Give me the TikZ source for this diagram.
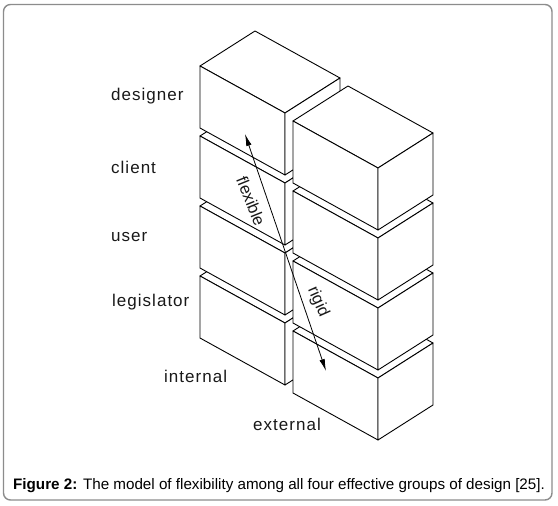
\documentclass[tikz,border=0pt]{standalone}
\usepackage{fontspec}
\setmainfont{Liberation Sans}
\newfontfamily\labfont[LetterSpace=6]{Liberation Sans}
\usetikzlibrary{arrows.meta}
\tikzset{
  boxline/.style={draw=black,fill=white,line width=0.9pt,line join=round},
  lab/.style={font=\labfont\fontsize{17}{20}\selectfont,text=black!90,inner sep=0pt},
  arrlab/.style={font=\fontsize{16.5}{19}\selectfont,text=black!90,inner sep=0pt},
  frame/.style={draw=black!45,line width=1.4pt,rounded corners=7pt},
  brick/.pic={
    \filldraw[boxline] (0,0) -- (85,47) -- (140,12) -- (55,-35) -- cycle;
    \filldraw[boxline] (0,0) -- (85,47) -- (85,109) -- (0,62) -- cycle;
    \filldraw[boxline] (85,47) -- (140,12) -- (140,74) -- (85,109) -- cycle;
  }
}
\begin{document}
\begin{tikzpicture}[x=1pt,y=-1pt]
\useasboundingbox (0,0) rectangle (558,506);
\fill[white] (0,0) rectangle (558,506);
\draw[frame] (3.5,4.5) rectangle (552,500);
% left column (back), bottom to top
\pic at (200,276) {brick};
\pic at (200,206) {brick};
\pic at (200,136) {brick};
\pic at (200,66) {brick};
% right column (front), bottom to top
\pic at (293,331) {brick};
\pic at (293,261) {brick};
\pic at (293,191) {brick};
\pic at (293,121) {brick};
% arrow
\coordinate (ftip) at (245,134);
\coordinate (rtip) at (326,371);
\draw[line width=0.8pt,{Latex[length=12pt,width=5.5pt]}-{Latex[length=12pt,width=5.5pt]}] (ftip) -- (rtip);
\node[arrlab,rotate=-68] (flex) at (251,201) {flexible};
\node[arrlab,rotate=-66] (rig) at (318,302) {rigid};
% labels
\node[lab,anchor=base west] (designer) at (111,100) {designer};
\node[lab,anchor=base west] (client) at (111,173) {client};
\node[lab,anchor=base west] (user) at (111,241) {user};
\node[lab,anchor=base west] (legis) at (112,306) {legislator};
\node[lab,anchor=base west] (internal) at (164,382) {internal};
\node[lab,anchor=base west] (external) at (253,430) {external};
% caption
\node[anchor=base west,inner sep=0pt,font=\fontsize{15.2}{18}\selectfont] (cap) at (13,489) {\textbf{Figure 2:} The model of flexibility among all four effective groups of design [25].};
\end{tikzpicture}
\end{document}
